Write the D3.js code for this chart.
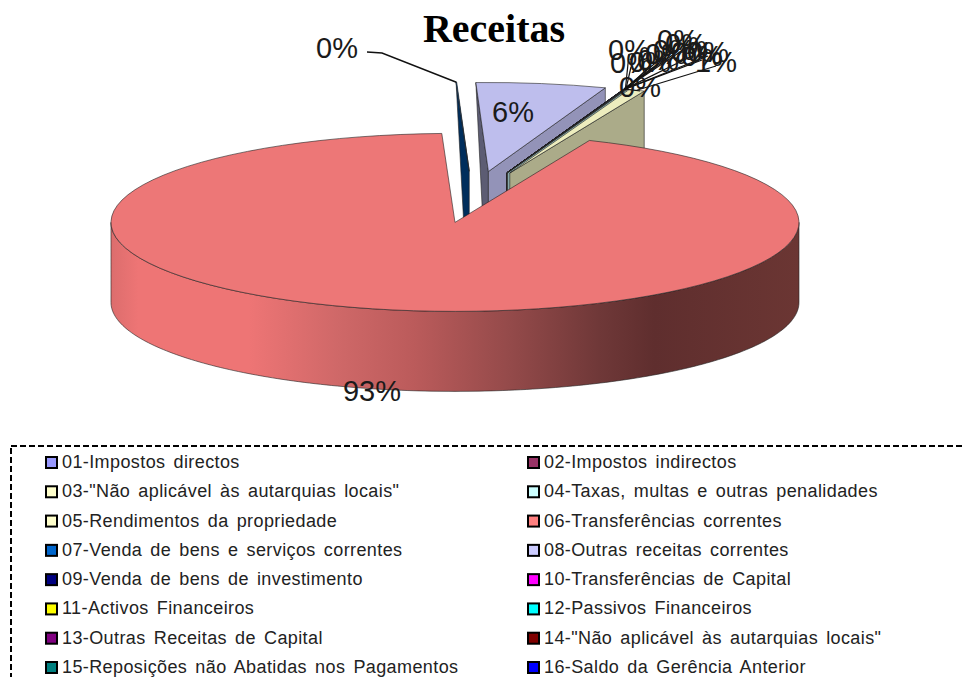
<!DOCTYPE html>
<html>
<head>
<meta charset="utf-8">
<script src="https://cdn.jsdelivr.net/npm/d3@7"></script>
<style>
  html, body { margin: 0; padding: 0; background: #fff; overflow: hidden; }
  svg { display: block; }
</style>
</head>
<body>
<div id="chart"></div>
<script>
// Data
const categories = [
  '01-Impostos directos', '02-Impostos indirectos',
  '03-"Não aplicável às autarquias locais"', '04-Taxas, multas e outras penalidades',
  '05-Rendimentos da propriedade', '06-Transferências correntes',
  '07-Venda de bens e serviços correntes', '08-Outras receitas correntes',
  '09-Venda de bens de investimento', '10-Transferências de Capital',
  '11-Activos Financeiros', '12-Passivos Financeiros',
  '13-Outras Receitas de Capital', '14-"Não aplicável às autarquias locais"',
  '15-Reposições não Abatidas nos Pagamentos', '16-Saldo da Gerência Anterior'
];
const values = [0.02, 0.02, 0, 0.03, 0.75, 93, 0.03, 6.1, 0.01, 0.01, 0, 0, 0.01, 0, 0.01, 0.01];
const colors = [
  '#9999FF', '#993366', '#FFFFCC', '#CCFFFF', '#FFFFCC', '#FF8080', '#0066CC', '#CCCCFF',
  '#000080', '#FF00FF', '#FFFF00', '#00FFFF', '#800080', '#800000', '#008080', '#0000FF'
];
const title = 'Receitas';

// Layout of the tilted pie
const width = 963, height = 677;
const cx = 473, cy = 197, rx = 344, ry = 89, depth = 80, explode = 0.29;
const firstAngle = 20.05 * Math.PI / 180;

const svg = d3.select('#chart').append('svg').attr('width', width).attr('height', height);

const pieces = d3.pie().sort(null)
  .startAngle(firstAngle).endAngle(firstAngle + 2 * Math.PI)(values)
  .map((d, i) => {
    const mid = (d.startAngle + d.endAngle) / 2;
    return {
      ...d, i, mid,
      ax: cx + explode * rx * Math.sin(mid),
      ay: cy - explode * ry * Math.cos(mid)
    };
  });

const rim = (d, a) => [d.ax + rx * Math.sin(a), d.ay - ry * Math.cos(a)];
const shade = (c, k) => {
  const r = d3.rgb(c);
  return d3.rgb(r.r * k, r.g * k, r.b * k).formatHex();
};
const poly = d3.line();
const topArc = d3.arc().innerRadius(0).outerRadius(rx);
const edge = '#222';

// Side gradient of the big slice
const grad = svg.append('defs').append('linearGradient')
  .attr('id', 'side').attr('gradientUnits', 'userSpaceOnUse')
  .attr('x1', 111).attr('x2', 799).attr('y1', 0).attr('y2', 0);
[[0, '#dc6d6d'], [0.04, '#ee7575'], [0.2, '#ee7575'], [0.33, '#cf6868'], [0.44, '#bb5b5b'],
 [0.58, '#944a4a'], [0.71, '#6f3838'], [0.79, '#5f2e2e'], [1, '#6b3633']].forEach(([o, c]) => {
  grad.append('stop').attr('offset', o).attr('stop-color', c);
});

// Paint from the back slice round to the big one in front
const order = [6, 7, 8, 9, 10, 11, 12, 13, 14, 15, 0, 1, 2, 3, 4, 5].map(i => pieces[i]);
const g = svg.append('g');

order.forEach(d => {
  const color = colors[d.i];
  if (Math.sin(d.startAngle) < 0) {
    // left face narrows towards the bottom of the slice
    g.append('path')
      .attr('d', poly([rim(d, d.startAngle), [d.ax, d.ay], [d.ax, d.ay + depth], [d.ax - 4, d.ay + depth]]) + 'Z')
      .attr('fill', shade(color, 0.45)).attr('stroke', edge).attr('stroke-width', 0.6);
  }
  if (Math.sin(d.endAngle) > 0 && d.i !== 5) {
    const [ex, ey] = rim(d, d.endAngle);
    g.append('path')
      .attr('d', poly([[d.ax, d.ay], [ex, ey], [ex, ey + depth], [d.ax, d.ay + depth]]) + 'Z')
      .attr('fill', shade(color, d.i === 7 ? 0.72 : 0.67)).attr('stroke', edge).attr('stroke-width', 0.6);
  }
  if (d.i === 5) {
    // outer wall of the big slice
    const angles = d3.range(90, 270.5, 1).map(v => v * Math.PI / 180);
    const area = d3.area()
      .x(a => rim(d, a)[0])
      .y0(a => rim(d, a)[1])
      .y1(a => rim(d, a)[1] + depth);
    g.append('path').attr('d', area(angles))
      .attr('fill', 'url(#side)').attr('stroke', edge).attr('stroke-width', 0.6);
  }
  g.append('path')
    .attr('d', topArc(d))
    .attr('transform', `translate(${d.ax},${d.ay}) scale(1,${ry / rx})`)
    .attr('fill', shade(color, 0.93))
    .attr('stroke', edge).attr('stroke-width', 0.6)
    .attr('vector-effect', 'non-scaling-stroke');
});

// Percent labels: the small slices pile up top right with leader lines
const pct = v => Math.round(v) + '%';
const labelSpots = {
  0: [629, 50], 1: [631, 63], 2: [640, 87], 3: [650, 62], 4: [716, 62],
  8: [658, 60], 9: [666, 54], 10: [674, 50], 11: [678, 40], 12: [686, 44],
  13: [692, 52], 14: [702, 56], 15: [708, 52],
  5: [372, 391], 6: [337, 48], 7: [513, 112]
};
const labels = svg.append('g');

pieces.forEach(d => {
  const [lx, ly] = labelSpots[d.i];
  if (d.i === 6) {
    labels.append('path')
      .attr('d', poly([[lx + 30, ly + 4], [lx + 45, ly + 5], rim(d, d.mid)]))
      .attr('fill', 'none').attr('stroke', '#111').attr('stroke-width', 1.4);
  } else if (d.i !== 5 && d.i !== 7) {
    labels.append('path')
      .attr('d', poly([rim(d, d.mid), [lx, ly + 4]]))
      .attr('fill', 'none').attr('stroke', '#111').attr('stroke-width', 1.2);
  }
});
labels.selectAll('text').data(pieces).join('text')
  .attr('x', d => labelSpots[d.i][0])
  .attr('y', d => labelSpots[d.i][1] + 10)
  .attr('text-anchor', 'middle')
  .attr('font-family', '"Liberation Sans", Arial, sans-serif')
  .attr('font-size', 29)
  .attr('fill', '#1a1a1a')
  .text(d => pct(d.value));

// Title
svg.append('text')
  .attr('x', 494).attr('y', 42)
  .attr('text-anchor', 'middle')
  .attr('font-family', '"Liberation Serif", "Times New Roman", serif')
  .attr('font-weight', 'bold').attr('font-size', 40)
  .attr('fill', '#000')
  .text(title);

// Legend in a dashed box that runs off the page
svg.append('rect')
  .attr('x', 11).attr('y', 446).attr('width', 1000).attr('height', 300)
  .attr('fill', 'none').attr('stroke', '#000').attr('stroke-width', 2)
  .attr('stroke-dasharray', '6 3');

const row = d3.scaleLinear().domain([0, 7]).range([462, 667]);
const column = d3.scaleOrdinal().domain([0, 1]).range([46, 528]);

const legend = svg.append('g').selectAll('g').data(categories).join('g')
  .attr('transform', (d, i) => `translate(${column(i % 2)},${row(Math.floor(i / 2))})`);
legend.append('rect')
  .attr('x', 0).attr('y', -5).attr('width', 11).attr('height', 11)
  .attr('fill', (d, i) => colors[i])
  .attr('stroke', '#000').attr('stroke-width', 2);
legend.append('text')
  .attr('x', 16).attr('y', 6)
  .attr('font-family', '"Liberation Sans", Arial, sans-serif')
  .attr('font-size', 18)
  .attr('letter-spacing', 0.4)
  .attr('word-spacing', 2.7)
  .attr('fill', '#222')
  .text(d => d);
</script>
</body>
</html>
